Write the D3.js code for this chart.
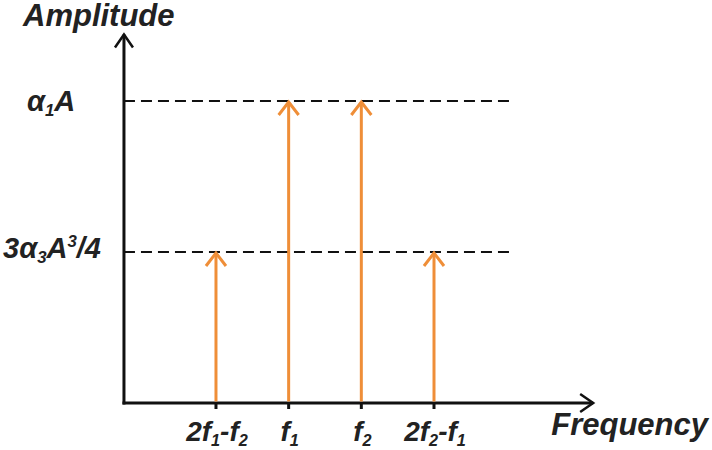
<!DOCTYPE html>
<html>
<head>
<meta charset="utf-8">
<script src="https://cdn.jsdelivr.net/npm/d3@7"></script>
<style>
  body { margin: 0; background: #fff; }
  text { font-family: "Liberation Sans", Arial, sans-serif; font-weight: bold; font-style: italic; fill: #222; }
</style>
</head>
<body>
<svg width="712" height="450"></svg>
<script>
// spectral lines: position on frequency axis, relative amplitude
const freqPos = [1, 2, 3, 4];
const amps = [0.5, 1, 1, 0.5];
// tick labels as [text, kind] pieces
const freqLabels = [
  [["2f", null], ["1", "sub"], ["-f", null], ["2", "sub"]],
  [["f", null], ["1", "sub"]],
  [["f", null], ["2", "sub"]],
  [["2f", null], ["2", "sub"], ["-f", null], ["1", "sub"]]
];
const levels = [1, 0.5];
const levelLabels = [
  [["\u03b1", null], ["1", "sub"], ["A", null]],
  [["3\u03b1", null], ["3", "sub"], ["A", null], ["3", "sup"], ["/4", null]]
];

const orange = "#EF8E38";
const svg = d3.select("svg");

const x = d3.scaleLinear().domain([0, 4]).range([143.3, 434]);
const y = d3.scaleLinear().domain([0, 1]).range([403, 101]);

const xMin = -0.266, xMax = 6.19, dashEnd = 5.09;
const yTop = 1.22;

function richText(g, parts, size) {
  let shift = 0;
  parts.forEach(([s, kind]) => {
    const t = g.append("tspan").text(s);
    let target = 0;
    if (kind === "sub") target = 5;
    if (kind === "sup") target = -11;
    t.attr("font-size", kind ? size * 0.58 : size)
      .attr("dy", target - shift);
    shift = target;
  });
}

// dashed reference levels
svg.selectAll("line.level")
  .data(levels)
  .enter().append("line")
  .attr("class", "level")
  .attr("x1", x(xMin)).attr("x2", x(dashEnd))
  .attr("y1", d => y(d)).attr("y2", d => y(d))
  .attr("stroke", "#111").attr("stroke-width", 2)
  .attr("stroke-dasharray", "11,6");

// axes
const axis = svg.append("g").attr("stroke", "#111").attr("fill", "none")
  .attr("stroke-width", 3);
axis.append("line").attr("x1", x(xMin)).attr("x2", x(xMin))
  .attr("y1", y(0) + 1.5).attr("y2", y(yTop));
axis.append("line").attr("x1", x(xMin) - 1.5).attr("x2", x(xMax))
  .attr("y1", y(0)).attr("y2", y(0));
axis.append("path")
  .attr("d", `M${x(xMin) - 9},${y(yTop) + 13} L${x(xMin)},${y(yTop)} L${x(xMin) + 9},${y(yTop) + 13}`)
  .attr("stroke-width", 2.5);
axis.append("path")
  .attr("d", `M${x(xMax) - 13},${y(0) - 9} L${x(xMax)},${y(0)} L${x(xMax) - 13},${y(0) + 9}`)
  .attr("stroke-width", 2.5);

// tick marks
svg.selectAll("line.tick")
  .data(freqPos)
  .enter().append("line")
  .attr("x1", d => x(d)).attr("x2", d => x(d))
  .attr("y1", y(0)).attr("y2", y(0) + 6)
  .attr("stroke", "#111").attr("stroke-width", 3);

// spectral arrows
const arrows = svg.selectAll("g.arrow")
  .data(freqPos.map((f, i) => ({ f, a: amps[i] })))
  .enter().append("g")
  .attr("fill", "none").attr("stroke", orange).attr("stroke-width", 3);
arrows.append("line")
  .attr("x1", d => x(d.f)).attr("x2", d => x(d.f))
  .attr("y1", y(0) - 1.5).attr("y2", d => y(d.a) + 1);
arrows.append("path")
  .attr("d", d => `M${x(d.f) - 10},${y(d.a) + 14} L${x(d.f)},${y(d.a) + 1} L${x(d.f) + 10},${y(d.a) + 14}`);

// frequency labels
freqLabels.forEach((parts, i) => {
  const t = svg.append("text")
    .attr("x", x(freqPos[i]) + 1).attr("y", 441)
    .attr("text-anchor", "middle");
  richText(t, parts, 28);
});

// level labels
const levelX = [27, 3];
const levelY = [111, 258];
levelLabels.forEach((parts, i) => {
  const t = svg.append("text").attr("x", levelX[i]).attr("y", levelY[i]);
  richText(t, parts, 29);
});

// axis titles
svg.append("text").attr("x", 23).attr("y", 26)
  .attr("font-size", 31).text("Amplitude");
svg.append("text").attr("x", 708).attr("y", 435)
  .attr("font-size", 31).attr("text-anchor", "end").text("Frequency");
</script>
</body>
</html>
